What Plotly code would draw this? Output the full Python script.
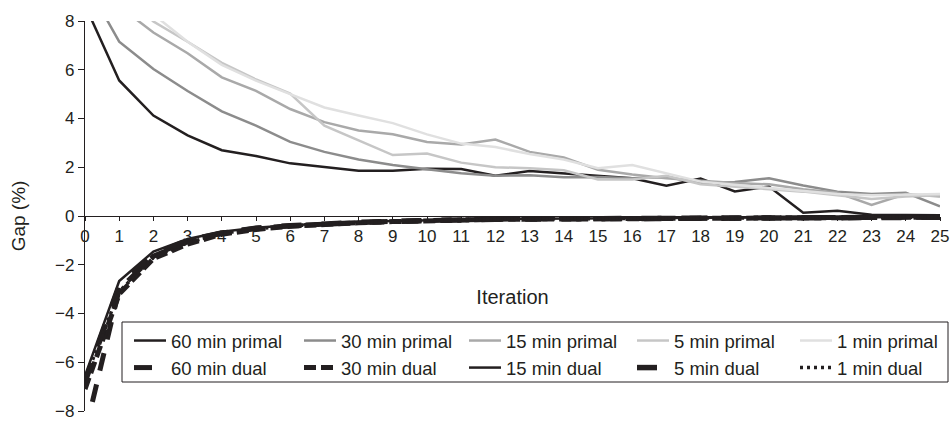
import plotly.graph_objects as go

iterations = list(range(0, 26))

primal_60 = [8.65, 5.56, 4.12, 3.31, 2.70, 2.46, 2.16, 2.02, 1.86, 1.86, 1.94, 1.93, 1.65,
             1.85, 1.75, 1.65, 1.55, 1.24, 1.54, 1.01, 1.21, 0.13, 0.22, 0.05, 0.03, 0.03]
primal_30 = [9.65, 7.15, 6.03, 5.13, 4.29, 3.71, 3.04, 2.63, 2.32, 2.09, 1.92, 1.75, 1.65,
             1.67, 1.59, 1.60, 1.55, 1.60, 1.35, 1.40, 1.55, 1.25, 1.00, 0.90, 0.95, 0.40]
primal_15 = [10.0, 8.60, 7.53, 6.68, 5.69, 5.13, 4.39, 3.85, 3.51, 3.35, 3.04, 2.93, 3.14,
             2.63, 2.40, 1.90, 1.70, 1.55, 1.45, 1.35, 1.30, 1.10, 0.95, 0.45, 0.90, 0.80]
primal_5 = [11.0, 9.30, 7.98, 7.15, 6.28, 5.60, 5.02, 3.71, 3.10, 2.50, 2.56, 2.19, 2.00,
            1.96, 1.88, 1.50, 1.50, 1.65, 1.30, 1.20, 1.10, 1.00, 0.85, 0.70, 0.80, 0.85]
primal_1 = [11.5, 9.40, 8.27, 7.15, 6.20, 5.55, 5.00, 4.45, 4.12, 3.81, 3.35, 2.97, 2.83,
            2.54, 2.32, 1.96, 2.09, 1.75, 1.41, 1.28, 1.15, 1.00, 0.90, 0.85, 0.88, 0.90]

dual_60 = [-8.90, -3.00, -1.65, -1.05, -0.70, -0.50, -0.40, -0.32, -0.27, -0.22, -0.18, -0.15, -0.13,
           -0.12, -0.11, -0.10, -0.10, -0.09, -0.08, -0.07, -0.06, -0.06, -0.05, -0.05, -0.05, -0.05]
dual_30 = [-7.10, -3.20, -1.75, -1.15, -0.75, -0.55, -0.42, -0.33, -0.28, -0.23, -0.19, -0.16, -0.14,
           -0.13, -0.12, -0.11, -0.10, -0.09, -0.08, -0.07, -0.07, -0.06, -0.06, -0.05, -0.05, -0.05]
dual_15 = [-6.55, -2.67, -1.46, -0.94, -0.65, -0.48, -0.38, -0.30, -0.25, -0.21, -0.17, -0.14, -0.12,
           -0.11, -0.10, -0.09, -0.09, -0.08, -0.07, -0.07, -0.06, -0.05, -0.05, -0.05, -0.04, -0.04]
dual_5 = [-6.80, -2.90, -1.60, -1.00, -0.70, -0.50, -0.40, -0.31, -0.26, -0.22, -0.18, -0.15, -0.13,
          -0.12, -0.11, -0.10, -0.09, -0.08, -0.08, -0.07, -0.06, -0.06, -0.05, -0.05, -0.05, -0.05]
dual_1 = [-6.70, -3.10, -1.70, -1.10, -0.72, -0.52, -0.41, -0.32, -0.27, -0.22, -0.18, -0.15, -0.13,
          -0.12, -0.11, -0.10, -0.09, -0.08, -0.08, -0.07, -0.06, -0.06, -0.05, -0.05, -0.05, -0.05]

y_ticks = [-8, -6, -4, -2, 0, 2, 4, 6, 8]
y_tick_labels = ["\u22128", "\u22126", "\u22124", "\u22122", "0", "2", "4", "6", "8"]

# (name, values, colour, width, dash, legend column)
series = [
    ("60 min primal", primal_60, "#231f20", 2.5, "solid", "legend"),
    ("30 min primal", primal_30, "#8c8c8c", 2.5, "solid", "legend2"),
    ("15 min primal", primal_15, "#a9a9a9", 2.5, "solid", "legend3"),
    ("5 min primal", primal_5, "#c6c6c6", 2.5, "solid", "legend4"),
    ("1 min primal", primal_1, "#e0e0e0", 2.5, "solid", "legend5"),
    ("60 min dual", dual_60, "#231f20", 5, "18px,14px", "legend"),
    ("30 min dual", dual_30, "#231f20", 5, "12px,5px", "legend2"),
    ("15 min dual", dual_15, "#231f20", 2.5, "solid", "legend3"),
    ("5 min dual", dual_5, "#231f20", 5.5, "20px,20px", "legend4"),
    ("1 min dual", dual_1, "#231f20", 3.5, "3px,4px", "legend5"),
]

FONT = "Liberation Sans, Arial, Helvetica, sans-serif"
INK = "#231f20"

L, R, T, B = 85, 10, 21, 11
W, H = 950, 422
PW, PH = W - L - R, H - T - B


def px_x(p):
    return (p - L) / PW


def px_y(p):
    return (H - B - p) / PH


fig = go.Figure()
for name, vals, color, width, dash, leg in series:
    fig.add_trace(go.Scatter(
        x=iterations, y=vals, name=name, mode="lines", legend=leg,
        line=dict(color=color, width=width, dash=dash),
    ))

legend_cols = [129, 299, 464, 632, 795]
legend_top = 322
legend_common = dict(
    orientation="v", xanchor="left", yanchor="top",
    bgcolor="rgba(0,0,0,0)", borderwidth=0, itemwidth=32,
    font=dict(family=FONT, size=18.5, color=INK), traceorder="normal",
)
legends = {}
for i, cx in enumerate(legend_cols):
    key = "legend" if i == 0 else f"legend{i + 1}"
    legends[key] = dict(legend_common, x=px_x(cx), y=px_y(legend_top))

fig.update_layout(
    width=W, height=H,
    margin=dict(l=L, r=R, t=T, b=B, autoexpand=False),
    paper_bgcolor="white", plot_bgcolor="white",
    font=dict(family=FONT, size=17, color=INK),
    showlegend=True,
    xaxis=dict(
        range=[0, 25], dtick=1, tick0=0,
        anchor="free", position=0.5,
        showline=True, linecolor=INK, linewidth=1.2,
        showgrid=False, zeroline=False,
        ticks="outside", ticklen=4, tickcolor=INK,
        tickfont=dict(size=17, color=INK),
        layer="below traces",
        title=dict(text="Iteration", font=dict(size=20, color=INK), standoff=45),
    ),
    yaxis=dict(
        range=[-8, 8], tickmode="array",
        tickvals=y_ticks, ticktext=y_tick_labels,
        ticklabeloverflow="allow",
        showline=True, linecolor=INK, linewidth=1.2,
        showgrid=False, zeroline=False,
        ticks="outside", ticklen=6, tickcolor=INK,
        tickfont=dict(size=17, color=INK),
        layer="below traces",
        title=dict(text="Gap (%)", font=dict(size=19, color=INK), standoff=24),
    ),
    shapes=[dict(
        type="rect", xref="paper", yref="paper",
        x0=px_x(122), x1=px_x(948), y0=px_y(382), y1=px_y(legend_top),
        line=dict(color=INK, width=1), fillcolor="white", layer="below",
    )],
    **legends,
)

fig.write_html("out.html")
